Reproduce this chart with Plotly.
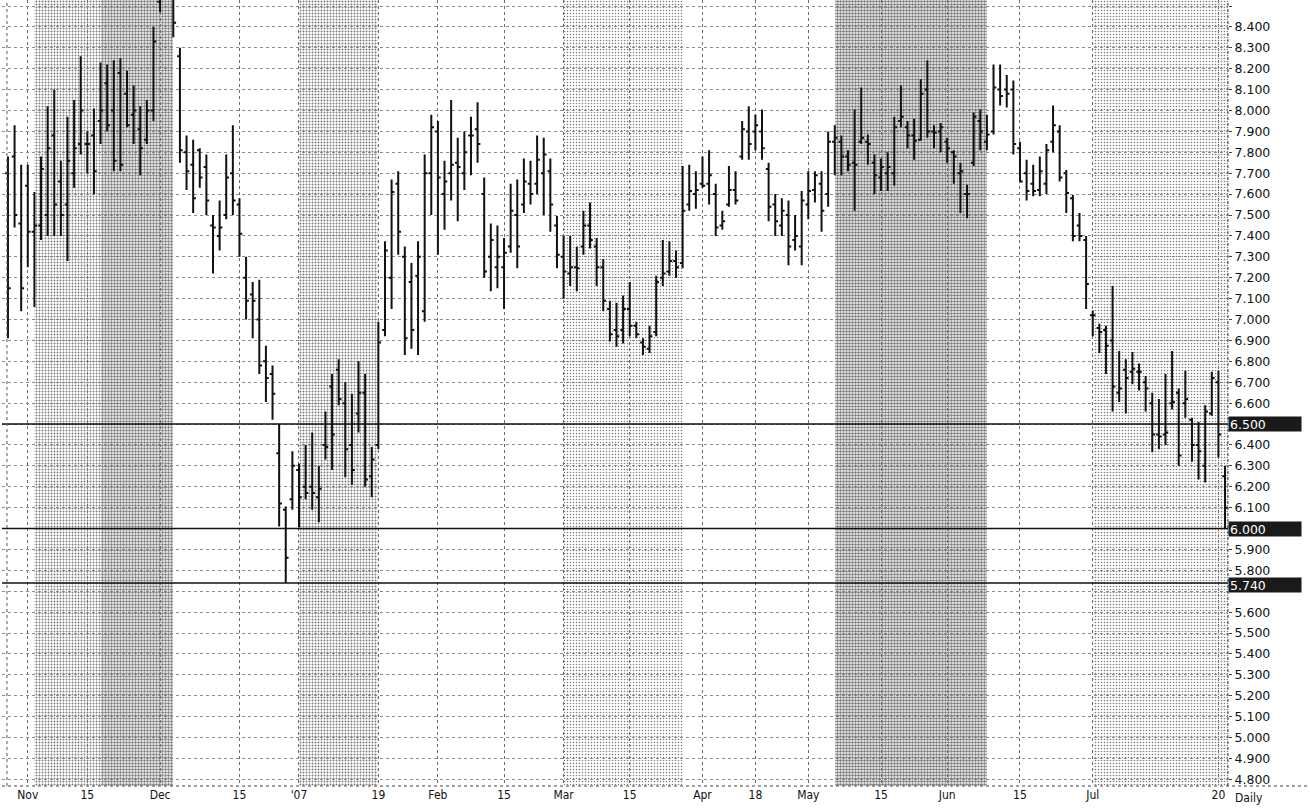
import plotly.graph_objects as go

# Daily OHLC sessions, oldest first (session index 0 .. 184)
opens = [7.70, 7.78, 7.46, 7.64, 7.42, 7.45, 7.50, 7.88, 7.66, 7.55,
         7.70, 7.84, 7.84, 7.88, 7.95, 8.13, 8.00, 8.18, 8.08, 7.98,
         7.91, 7.86, 8.00, 8.52, 8.60, 8.55, 8.26, 7.80, 7.74, 7.81,
         7.73, 7.45, 7.40, 7.50, 7.70, 7.55, 7.20, 7.12, 7.00, 6.80,
         6.74, 6.36, 6.09, 6.14, 6.28, 6.20, 6.20, 6.15, 6.40, 6.68,
         6.76, 6.60, 6.40, 6.55, 6.65, 6.25, 6.40, 6.95, 7.20, 7.65,
         7.30, 7.18, 7.21, 7.04, 7.70, 7.90, 7.60, 7.70, 7.75, 7.70,
         7.88, 7.91, 7.60, 7.30, 7.25, 7.25, 7.35, 7.50, 7.55, 7.65,
         7.65, 7.70, 7.71, 7.45, 7.30, 7.22, 7.25, 7.35, 7.45, 7.35,
         7.25, 7.05, 6.95, 6.95, 7.05, 6.97, 6.89, 6.86, 6.94, 7.20,
         7.23, 7.28, 7.27, 7.55, 7.60, 7.65, 7.65, 7.60, 7.45, 7.55,
         7.62, 7.78, 7.90, 7.90, 7.90, 7.72, 7.55, 7.45, 7.50, 7.38,
         7.35, 7.55, 7.62, 7.65, 7.60, 7.85, 7.85, 7.78, 7.75, 7.85,
         7.85, 7.75, 7.68, 7.70, 7.70, 7.95, 7.92, 7.88, 7.86, 8.10,
         7.90, 7.90, 7.85, 7.80, 7.70, 7.60, 7.75, 7.95, 7.85, 7.90,
         8.10, 8.10, 8.10, 7.82, 7.70, 7.65, 7.62, 7.65, 7.85, 7.90,
         7.70, 7.58, 7.45, 7.38, 7.02, 6.96, 6.95, 6.90, 6.65, 6.76,
         6.75, 6.75, 6.70, 6.60, 6.45, 6.45, 6.60, 6.65, 6.60, 6.52,
         6.40, 6.30, 6.55, 6.70, 6.25]
highs = [7.78, 7.93, 7.74, 7.74, 7.61, 7.78, 8.02, 8.10, 7.76, 7.97,
         8.05, 8.26, 7.90, 8.01, 8.23, 8.22, 8.24, 8.25, 8.19, 8.12,
         8.02, 8.05, 8.40, 8.59, 8.68, 8.57, 8.30, 7.88, 7.86, 7.82,
         7.79, 7.50, 7.57, 7.79, 7.93, 7.58, 7.30, 7.18, 7.19, 6.875,
         6.78, 6.50, 6.105, 6.37, 6.31, 6.40, 6.46, 6.30, 6.56, 6.74,
         6.81, 6.70, 6.645, 6.80, 6.74, 6.39, 6.99, 7.375, 7.67, 7.71,
         7.35, 7.27, 7.375, 7.79, 7.98, 7.95, 7.76, 8.05, 7.87, 7.90,
         7.97, 8.04, 7.68, 7.46, 7.45, 7.39, 7.65, 7.67, 7.77, 7.76,
         7.88, 7.87, 7.77, 7.495, 7.40, 7.40, 7.35, 7.52, 7.56, 7.39,
         7.29, 7.09, 7.08, 7.115, 7.18, 6.99, 6.91, 6.97, 7.21, 7.38,
         7.375, 7.33, 7.735, 7.74, 7.71, 7.78, 7.81, 7.65, 7.52, 7.735,
         7.71, 7.95, 8.02, 7.98, 8.005, 7.75, 7.60, 7.58, 7.57, 7.50,
         7.615, 7.71, 7.71, 7.71, 7.90, 7.93, 7.88, 7.81, 8.005, 8.11,
         7.885, 7.79, 7.77, 7.80, 7.97, 8.12, 7.95, 7.96, 8.15, 8.24,
         7.93, 7.94, 7.87, 7.81, 7.75, 7.645, 7.99, 8.005, 7.98, 8.22,
         8.22, 8.17, 8.144, 7.85, 7.765, 7.74, 7.78, 7.84, 8.024, 7.93,
         7.716, 7.596, 7.51, 7.40, 7.043, 6.98, 6.97, 7.16, 6.85, 6.81,
         6.845, 6.79, 6.73, 6.65, 6.62, 6.74, 6.85, 6.67, 6.755, 6.53,
         6.51, 6.59, 6.75, 6.755, 6.30]
lows = [6.91, 7.44, 7.04, 7.25, 7.06, 7.38, 7.40, 7.40, 7.40, 7.28,
        7.63, 7.79, 7.70, 7.60, 7.84, 7.90, 7.71, 7.71, 7.92, 7.84,
        7.69, 7.84, 7.95, 8.47, 8.56, 8.35, 7.75, 7.62, 7.51, 7.63,
        7.50, 7.22, 7.33, 7.48, 7.50, 7.30, 7.00, 6.91, 6.74, 6.605,
        6.52, 6.01, 5.74, 6.09, 6.005, 6.14, 6.09, 6.03, 6.33, 6.28,
        6.59, 6.245, 6.21, 6.46, 6.20, 6.15, 6.38, 6.92, 7.05, 7.31,
        6.83, 6.86, 6.83, 6.99, 7.50, 7.31, 7.43, 7.57, 7.47, 7.62,
        7.69, 7.75, 7.20, 7.135, 7.15, 7.05, 7.32, 7.245, 7.51, 7.55,
        7.60, 7.50, 7.42, 7.245, 7.10, 7.16, 7.135, 7.31, 7.34, 7.16,
        7.04, 6.895, 6.87, 6.885, 6.92, 6.91, 6.83, 6.84, 6.92, 7.16,
        7.21, 7.20, 7.245, 7.52, 7.53, 7.63, 7.55, 7.40, 7.43, 7.54,
        7.55, 7.765, 7.765, 7.81, 7.765, 7.47, 7.40, 7.40, 7.26, 7.33,
        7.26, 7.48, 7.56, 7.42, 7.54, 7.69, 7.69, 7.71, 7.52, 7.84,
        7.74, 7.60, 7.615, 7.615, 7.64, 7.92, 7.82, 7.765, 7.855, 7.87,
        7.82, 7.80, 7.75, 7.65, 7.51, 7.485, 7.735, 7.81, 7.81, 7.885,
        8.024, 8.015, 7.79, 7.66, 7.57, 7.59, 7.59, 7.60, 7.80, 7.66,
        7.51, 7.375, 7.375, 7.05, 6.92, 6.84, 6.74, 6.56, 6.605, 6.55,
        6.69, 6.66, 6.56, 6.365, 6.38, 6.40, 6.57, 6.30, 6.53, 6.32,
        6.235, 6.22, 6.54, 6.34, 6.00]
closes = [7.15, 7.50, 7.15, 7.42, 7.45, 7.72, 7.82, 7.55, 7.50, 7.76,
          7.82, 8.00, 7.84, 7.71, 8.00, 7.93, 7.76, 7.74, 7.93, 8.00,
          7.82, 8.00, 8.33, 8.55, 8.63, 8.42, 7.81, 7.71, 7.58, 7.68,
          7.57, 7.44, 7.44, 7.68, 7.57, 7.41, 7.09, 7.09, 6.78, 6.72,
          6.645, 6.12, 5.86, 6.30, 6.15, 6.17, 6.17, 6.19, 6.39, 6.45,
          6.62, 6.38, 6.28, 6.65, 6.235, 6.33, 6.89, 7.33, 7.61, 7.42,
          6.91, 6.95, 7.30, 7.70, 7.92, 7.68, 7.66, 7.74, 7.73, 7.80,
          7.88, 7.84, 7.23, 7.38, 7.30, 7.32, 7.52, 7.35, 7.66, 7.60,
          7.765, 7.79, 7.55, 7.31, 7.23, 7.25, 7.245, 7.45, 7.38, 7.25,
          7.09, 6.93, 6.92, 7.05, 6.97, 6.93, 6.87, 6.92, 7.18, 7.22,
          7.28, 7.25, 7.52, 7.615, 7.62, 7.64, 7.69, 7.44, 7.47, 7.62,
          7.57, 7.91, 7.84, 7.93, 7.82, 7.54, 7.47, 7.52, 7.35, 7.40,
          7.57, 7.615, 7.69, 7.52, 7.85, 7.87, 7.78, 7.74, 7.74, 7.87,
          7.84, 7.69, 7.73, 7.73, 7.92, 7.97, 7.88, 7.855, 8.08, 7.90,
          7.895, 7.92, 7.82, 7.78, 7.71, 7.60, 7.97, 7.90, 7.885, 8.11,
          8.07, 8.08, 7.84, 7.66, 7.615, 7.615, 7.71, 7.81, 7.93, 7.68,
          7.605, 7.40, 7.40, 7.17, 7.02, 6.94, 6.875, 6.68, 6.67, 6.72,
          6.765, 6.75, 6.67, 6.45, 6.44, 6.46, 6.605, 6.35, 6.62, 6.40,
          6.37, 6.56, 6.72, 6.45, 6.10]
sessions = list(range(len(closes)))

# Date labels along the session axis
tick_sessions = [3, 12, 23, 35, 44, 56, 65, 75, 84, 94, 105, 113, 121, 132, 142, 153, 164, 183]
tick_labels = ["Nov", "15", "Dec", "15", "'07", "19", "Feb", "15", "Mar", "15",
               "Apr", "18", "May", "15", "Jun", "15", "Jul", "20"]

# Shaded periods (session ranges) and the density of their screen
band_starts = [4, 14, 44, 84, 125, 164]
band_ends = [14, 25, 56, 102, 148, 184.6]
band_density = [0.30, 0.50, 0.32, 0.20, 0.55, 0.22]

# Marked price levels
levels = [6.5, 6.0, 5.74]
level_labels = ["6.500", "6.000", "5.740"]
level_shift = [0, 0, -2]

y_lo, y_hi = 4.7684, 8.5287
price_ticks = [round(4.8 + 0.1 * k, 1) for k in range(38)]
# labels hidden where a level box sits on the scale
price_text = ["" if p in (5.7, 6.0, 6.5) else f"{p:.3f}" for p in price_ticks]

fig = go.Figure()

# screened background periods
for x0, x1, dens in zip(band_starts, band_ends, band_density):
    fig.add_trace(go.Bar(
        x=[(x0 + x1) / 2], y=[y_hi - y_lo], base=[y_lo], width=[x1 - x0],
        marker=dict(color="#7a7a7a", line=dict(width=0),
                    pattern=dict(shape=".", fillmode="replace", size=3, solidity=dens)),
        showlegend=False, hoverinfo="skip",
    ))

fig.add_trace(go.Ohlc(
    x=sessions, open=opens, high=highs, low=lows, close=closes,
    increasing=dict(line=dict(color="#111111", width=2)),
    decreasing=dict(line=dict(color="#111111", width=2)),
    tickwidth=0.42, showlegend=False, hoverinfo="skip",
))

shapes = []
for lv in levels:
    shapes.append(dict(type="line", xref="paper", yref="y", x0=0, x1=1, y0=lv, y1=lv,
                       line=dict(color="#111111", width=1.5)))
# frame: dotted left edge, right axis line and bottom axis line
shapes.append(dict(type="line", xref="x", yref="paper", x0=-0.15, x1=-0.15, y0=0, y1=1,
                   line=dict(color="#555555", width=1, dash="dot")))
shapes.append(dict(type="line", xref="paper", yref="paper", x0=1, x1=1, y0=0, y1=1,
                   line=dict(color="#444444", width=1, dash="dot")))
shapes.append(dict(type="line", xref="paper", yref="paper", x0=0, x1=1.07, y0=0, y1=0,
                   line=dict(color="#444444", width=1, dash="dot")))

annotations = []
for lv, txt, shift in zip(levels, level_labels, level_shift):
    annotations.append(dict(xref="paper", yref="y", x=1.0, y=lv, xanchor="left", yanchor="middle",
                            text=txt, showarrow=False, align="left", width=70, height=12,
                            bgcolor="#1a1a1a", borderpad=1, yshift=shift,
                            font=dict(family="DejaVu Sans", size=12.5, color="#ffffff")))
annotations.append(dict(xref="paper", yref="paper", x=1.004, y=0, xanchor="left", yanchor="top",
                        text="Daily", showarrow=False, yshift=-3,
                        font=dict(family="DejaVu Sans Condensed", size=12, color="#111111")))

fig.update_layout(
    width=1310, height=810,
    margin=dict(l=2, r=82, t=0, b=24),
    paper_bgcolor="white", plot_bgcolor="white",
    barmode="overlay", bargap=0,
    shapes=shapes, annotations=annotations,
    xaxis=dict(
        range=[-0.9, 184.45], tickmode="array", tickvals=tick_sessions, ticktext=tick_labels,
        showgrid=True, gridcolor="#6a6a6a", griddash="dot", gridwidth=1,
        zeroline=False, showline=False, ticks="", rangeslider=dict(visible=False),
        tickfont=dict(family="DejaVu Sans Condensed", size=12, color="#111111"),
    ),
    yaxis=dict(
        range=[y_lo, y_hi], side="right", tickmode="array", tickvals=price_ticks,
        ticktext=price_text, showgrid=True, gridcolor="#8c8c8c", griddash="dot", gridwidth=1,
        zeroline=False, showline=False, ticks="outside", ticklen=3, tickcolor="#444444",
        tickfont=dict(family="DejaVu Sans", size=12.5, color="#111111"),
    ),
)

fig.write_html("out.html")
